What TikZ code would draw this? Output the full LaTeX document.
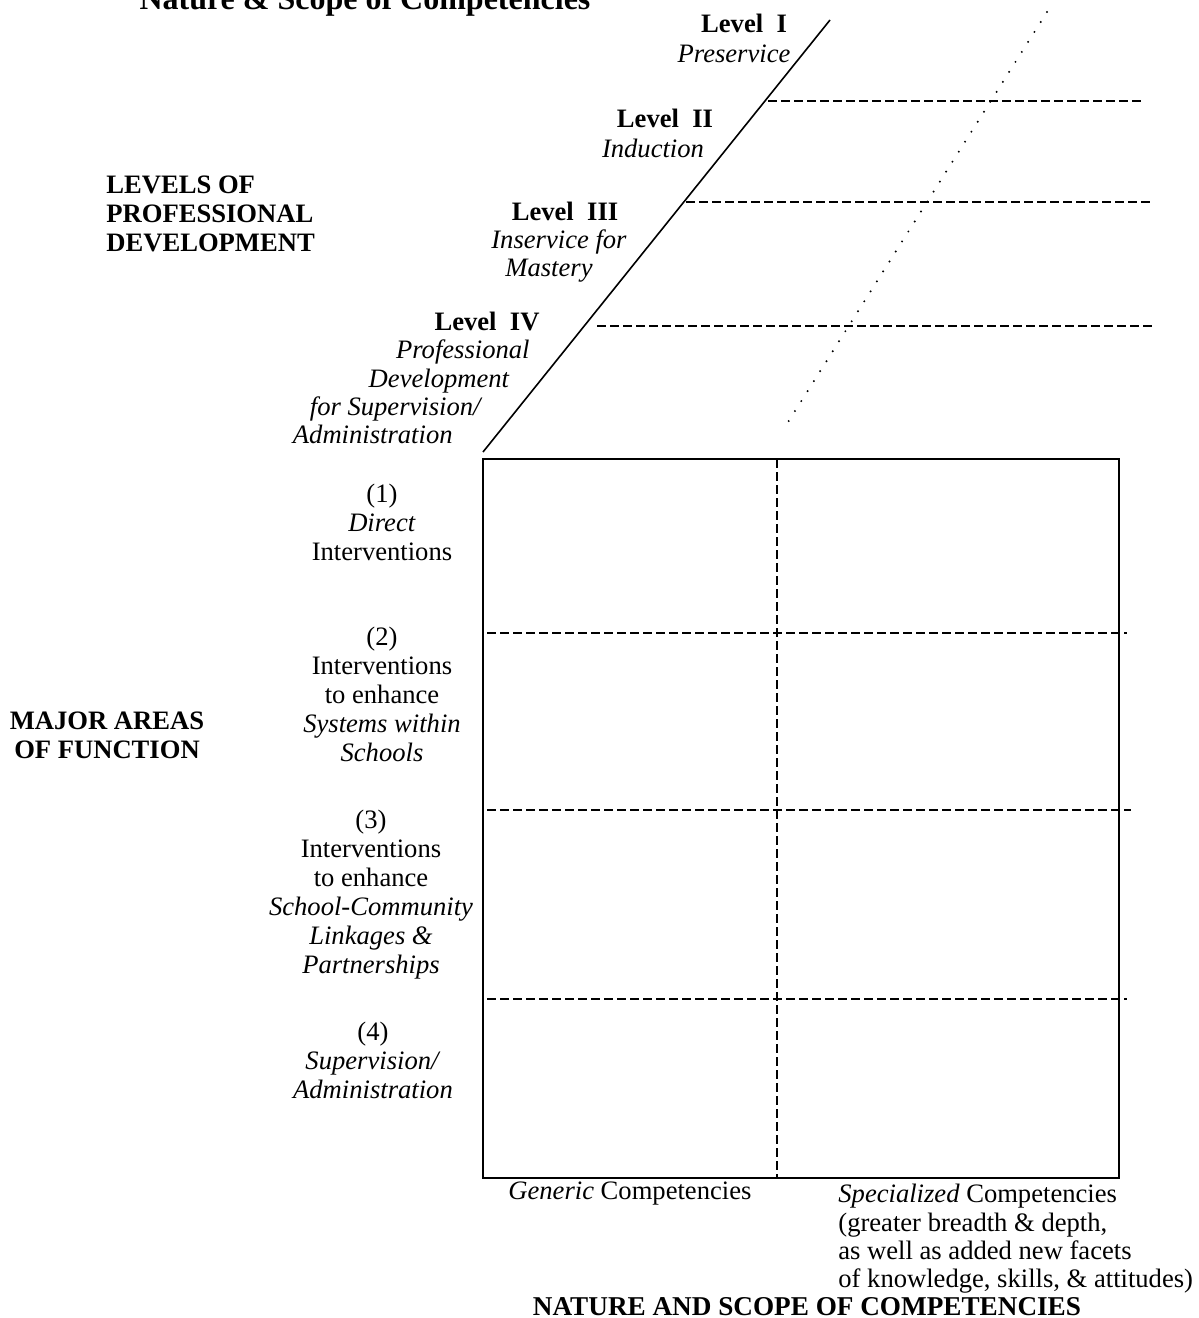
\documentclass[tikz,border=0pt]{standalone}
\usepackage{fontspec}
\setmainfont{Liberation Serif}
\begin{document}
\begin{tikzpicture}[x=0.5pt,y=-0.5pt,
    txt/.style={inner sep=0pt,font=\fontsize{13.3}{14.5}\selectfont},
    hdr/.style={inner sep=0pt,font=\fontsize{13.3}{14.5}\selectfont\bfseries},
    grid/.style={line width=0.8pt,dash pattern=on 4.5pt off 2pt},
    trail/.style={line width=1.1pt,line cap=round,dash pattern=on 0pt off 5.9pt}]
    \useasboundingbox (0,0) rectangle (1199,1318);
    % title, cut by the top edge
    \node [inner sep=0pt,font=\fontsize{16}{18}\selectfont\bfseries,anchor=base] (title) at (365,9) {Nature \& Scope of Competencies};
    % levels of professional development
    \coordinate (sbot) at (483,452);
    \coordinate (stop) at (830,20);
    \coordinate (dtop) at (1047,12);
    \coordinate (dbot) at (783,430);
    \draw [line width=0.8pt] (sbot) -- (stop);
    \draw [trail] (dtop) -- (dbot);
    \coordinate (l1a) at (768,101);  \coordinate (l1b) at (1142,101);
    \coordinate (l2a) at (686,202);  \coordinate (l2b) at (1150,202);
    \coordinate (l3a) at (597,326);  \coordinate (l3b) at (1154,326);
    \draw [grid] (l1a) -- (l1b);
    \draw [grid] (l2a) -- (l2b);
    \draw [grid] (l3a) -- (l3b);
    \node [hdr,anchor=base] (lvlI) at (744,32) {Level\enspace I};
    \node [txt,anchor=base] (lvlIname) at (734,62) {\textit{Preservice}};
    \node [hdr,anchor=base] (lvlII) at (665,127) {Level\enspace II};
    \node [txt,anchor=base] (lvlIIname) at (653,157) {\textit{Induction}};
    \node [hdr,anchor=base] (lvlIII) at (565,220) {Level\enspace III};
    \node [txt,anchor=base] (lvlIIIa) at (559,248) {\textit{Inservice for}};
    \node [txt,anchor=base] (lvlIIIb) at (549,276) {\textit{Mastery}};
    \node [hdr,anchor=base] (lvlIV) at (487,330) {Level\enspace IV};
    \node [txt,anchor=base east] (lvlIVa) at (530,358) {\textit{Professional}};
    \node [txt,anchor=base east] (lvlIVb) at (510,387) {\textit{Development}};
    \node [txt,anchor=base east] (lvlIVc) at (483,415) {\textit{for Supervision/}};
    \node [txt,anchor=base east] (lvlIVd) at (453,443) {\textit{Administration}};
    \node [hdr,align=left,anchor=north west] (levels) at (106,175) {LEVELS OF\\PROFESSIONAL\\DEVELOPMENT};
    % major areas of function
    \coordinate (boxnw) at (483,459);
    \coordinate (boxse) at (1119,1178);
    \coordinate (vtop) at (777,459);  \coordinate (vbot) at (777,1178);
    \coordinate (r1a) at (487,633);  \coordinate (r1b) at (1127,633);
    \coordinate (r2a) at (487,810);  \coordinate (r2b) at (1131,810);
    \coordinate (r3a) at (487,999);  \coordinate (r3b) at (1127,999);
    \draw [line width=0.8pt] (boxnw) rectangle (boxse);
    \draw [grid] (vtop) -- (vbot);
    \draw [grid] (r1a) -- (r1b);
    \draw [grid] (r2a) -- (r2b);
    \draw [grid] (r3a) -- (r3b);
    \node [hdr,align=center,anchor=north] (areas) at (107,711) {MAJOR AREAS\\OF FUNCTION};
    \node [txt,align=center,anchor=north] (area1) at (382,484) {(1)\\\textit{Direct}\\Interventions};
    \node [txt,align=center,anchor=north] (area2) at (382,627) {(2)\\Interventions\\to enhance\\\textit{Systems within}\\\textit{Schools}};
    \node [txt,align=center,anchor=north] (area3) at (371,810) {(3)\\Interventions\\to enhance\\\textit{School-Community}\\\textit{Linkages \&}\\\textit{Partnerships}};
    \node [txt,align=center,anchor=north] (area4) at (373,1022) {(4)\\\textit{Supervision/}\\\textit{Administration}};
    % nature and scope of competencies
    \node [txt,anchor=base west] (generic) at (508,1199) {\textit{Generic} Competencies};
    \node [txt,font=\fontsize{13.3}{14.1}\selectfont,align=left,anchor=north west] (special) at (838,1184) {\textit{Specialized} Competencies\\(greater breadth \& depth,\\as well as added new facets\\of knowledge, skills, \& attitudes)};
    \node [inner sep=0pt,font=\fontsize{13.6}{16}\selectfont\bfseries,anchor=base] (nature) at (807,1315) {NATURE AND SCOPE OF COMPETENCIES};
\end{tikzpicture}
\end{document}
